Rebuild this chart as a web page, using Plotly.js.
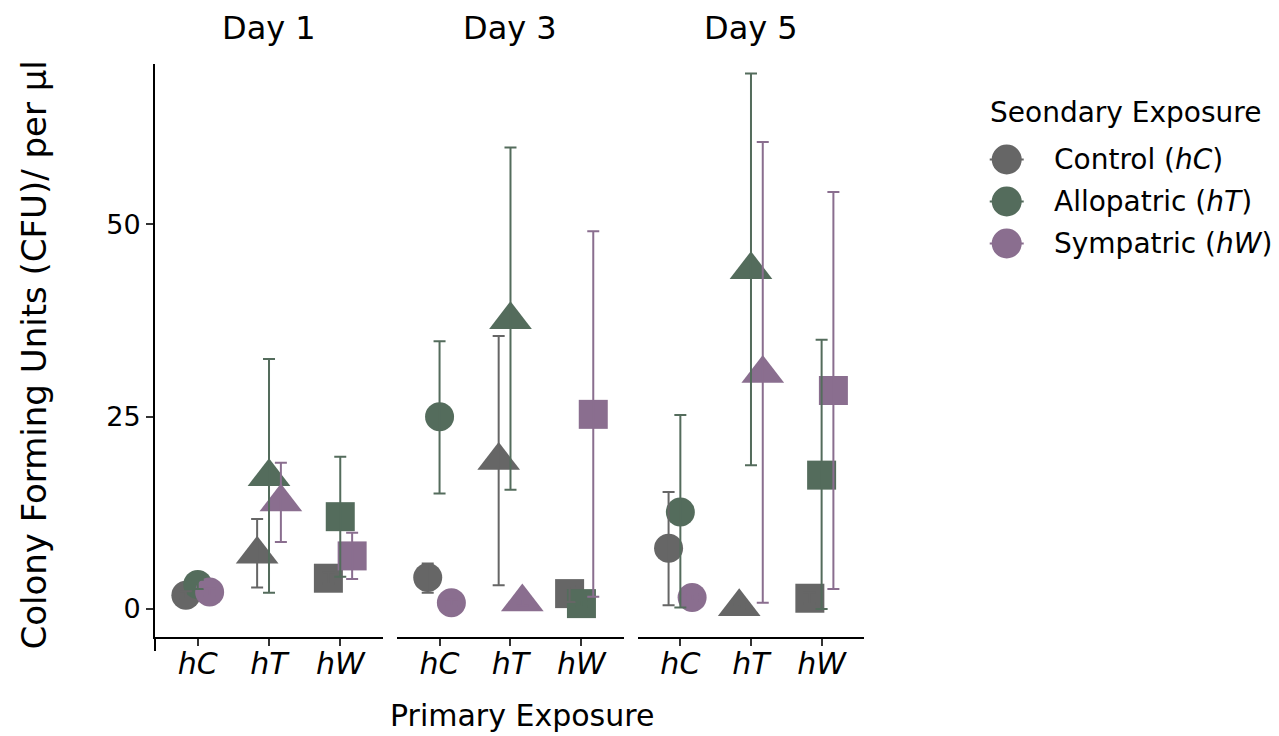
<!DOCTYPE html>
<html>
<head>
<meta charset="utf-8">
<script src="https://cdn.plot.ly/plotly-3.0.1.min.js"></script>
<style>html,body{margin:0;padding:0;background:#fff;}#chart{width:1279px;height:736px;}</style>
</head>
<body>
<div id="chart"></div>
<script>
// ---------- data ----------
const days = ['Day 1', 'Day 3', 'Day 5'];
const primaryCats = ['hC', 'hT', 'hW'];
const primaryLabels = ['<i>hC</i>', '<i>hT</i>', '<i>hW</i>'];
const secondaryNames = ['Control (<i>hC</i>)', 'Allopatric (<i>hT</i>)', 'Sympatric (<i>hW</i>)'];
const secondaryColors = ['#666666', '#546C5C', '#8A6E8F'];
const legendTitle = 'Seondary Exposure';

// rows: Day 1, Day 3, Day 5 ; columns: primary hC, hT, hW
const controlMean  = [[1.8, 7.1, 4.0], [4.1, 19.3, 2.0], [7.9, 0.3, 1.4]];
const controlLow   = [[1.3, 2.8, 3.3], [2.1, 3.1, 0.9], [0.5, 0.0, 0.7]];
const controlHigh  = [[2.3, 11.7, 4.7], [5.9, 35.5, 3.0], [15.2, 0.6, 2.1]];

const allopatricMean = [[3.2, 17.2, 12.0], [25.0, 37.6, 0.7], [12.6, 44.1, 17.4]];
const allopatricLow  = [[2.6, 2.1, 4.2], [15.0, 15.5, 0.3], [0.2, 18.7, 0.0]];
const allopatricHigh = [[3.8, 32.5, 19.8], [34.8, 60.0, 1.1], [25.2, 69.6, 35.0]];

const sympatricMean = [[2.2, 13.9, 6.9], [0.8, 0.9, 25.3], [1.5, 30.6, 28.4]];
const sympatricLow  = [[1.7, 8.7, 3.9], [0.4, 0.5, 1.6], [1.1, 0.8, 2.6]];
const sympatricHigh = [[2.7, 19.0, 9.9], [1.2, 1.3, 49.1], [1.9, 60.7, 54.2]];

// ---------- build ----------
const means = [controlMean, allopatricMean, sympatricMean];
const lows = [controlLow, allopatricLow, sympatricLow];
const highs = [controlHigh, allopatricHigh, sympatricHigh];

const FONT = 'DejaVu Sans, Verdana, sans-serif';
const symbols = ['circle', 'triangle-up', 'square'];
const sizes = [29, 37, 29];
const dodgeWidth = 0.5;
const nSec = secondaryNames.length;

const pointTraces = [];
const errTraces = [];
days.forEach((day, d) => {
  const xa = d === 0 ? 'x' : 'x' + (d + 1);
  secondaryNames.forEach((name, s) => {
    const off = (s - (nSec - 1) / 2) * dodgeWidth / nSec;
    const xs = primaryCats.map((c, i) => i + 1 + off);
    const ys = means[s][d];
    pointTraces.push({
      type: 'scatter', mode: 'markers', x: xs, y: ys, xaxis: xa, yaxis: 'y',
      name: name, showlegend: false, hoverinfo: 'skip',
      marker: { color: secondaryColors[s], symbol: symbols, size: sizes, opacity: 1, line: { width: 0 } }
    });
    errTraces.push({
      type: 'scatter', mode: 'markers', x: xs, y: ys, xaxis: xa, yaxis: 'y',
      name: name, showlegend: false, hoverinfo: 'skip',
      marker: { color: secondaryColors[s], size: 2, opacity: 0 },
      error_y: {
        type: 'data', symmetric: false,
        array: highs[s][d].map((h, i) => h - ys[i]),
        arrayminus: lows[s][d].map((l, i) => ys[i] - l),
        color: secondaryColors[s], thickness: 2, width: 6
      }
    });
  });
});

const domains = [[0, 0.3216], [0.3413, 0.6615], [0.6812, 1]];
const layout = {
  width: 1279, height: 736,
  margin: { l: 155, r: 415, t: 64, b: 99 },
  paper_bgcolor: '#ffffff', plot_bgcolor: '#ffffff',
  font: { family: FONT, color: '#000000' },
  showlegend: false,
  yaxis: {
    range: [-3.64, 70.84], tickvals: [0, 25, 50], ticktext: ['0', '25', '50'],
    showgrid: false, zeroline: false, showline: true, linecolor: '#000', linewidth: 2,
    ticks: 'outside', ticklen: 7, tickwidth: 2, tickcolor: '#333',
    tickfont: { size: 27, family: FONT, color: '#000' }, anchor: 'x', fixedrange: true
  },
  annotations: [],
  shapes: []
};
domains.forEach((dom, d) => {
  const key = d === 0 ? 'xaxis' : 'xaxis' + (d + 1);
  layout[key] = {
    domain: dom, range: [0.4, 3.6], anchor: 'y',
    tickvals: [1, 2, 3], ticktext: primaryLabels,
    showgrid: false, zeroline: false, showline: true, linecolor: '#000', linewidth: 2,
    ticks: 'outside', ticklen: 7, tickwidth: 2, tickcolor: '#333',
    ticklabelstandoff: -8,
    tickfont: { size: 30, family: FONT, color: '#000' }, fixedrange: true
  };
  layout.annotations.push({
    text: days[d], xref: 'paper', yref: 'paper', x: (dom[0] + dom[1]) / 2, y: 1.062,
    xanchor: 'center', yanchor: 'middle', showarrow: false,
    font: { size: 32, family: FONT, color: '#000' }
  });
});
// axis titles
layout.annotations.push({
  text: 'Primary Exposure', xref: 'paper', yref: 'paper', x: 0.5176, y: -0.137,
  xanchor: 'center', yanchor: 'middle', showarrow: false,
  font: { size: 30, family: FONT, color: '#000' }
});
layout.annotations.push({
  text: 'Colony Forming Units (CFU)/ per µl', xref: 'paper', yref: 'paper', x: -0.170, y: 0.492,
  xanchor: 'center', yanchor: 'middle', textangle: -90, showarrow: false,
  font: { size: 34, family: FONT, color: '#000' }
});
// y axis line extension below panel
layout.shapes.push({
  type: 'line', xref: 'paper', yref: 'paper', ysizemode: 'pixel', yanchor: 0,
  x0: 0, x1: 0, y0: 0, y1: -14, line: { color: '#000', width: 2 }
});
// legend
layout.annotations.push({
  text: legendTitle, xref: 'paper', yref: 'paper', x: 1.1753, y: 0.9154,
  xanchor: 'left', yanchor: 'middle', showarrow: false,
  font: { size: 28, family: FONT, color: '#000' }
});
const plotH = 736 - 64 - 99;
secondaryNames.forEach((name, s) => {
  const yPix = 159.5 + 42 * s;
  const yp = (736 - 99 - yPix) / plotH;
  const xc = 1.2013;
  layout.shapes.push({
    type: 'line', xref: 'paper', yref: 'paper', xsizemode: 'pixel', xanchor: xc,
    x0: -17, x1: 17, y0: yp, y1: yp, line: { color: secondaryColors[s], width: 2 }
  });
  layout.shapes.push({
    type: 'circle', xref: 'paper', yref: 'paper', xsizemode: 'pixel', ysizemode: 'pixel',
    xanchor: xc, yanchor: yp, x0: -15, x1: 15, y0: -15, y1: 15,
    fillcolor: secondaryColors[s], line: { width: 0 }
  });
  layout.annotations.push({
    text: name, xref: 'paper', yref: 'paper', x: 1.2647, y: yp,
    xanchor: 'left', yanchor: 'middle', showarrow: false,
    font: { size: 28, family: FONT, color: '#000' }
  });
});

Plotly.newPlot('chart', pointTraces.concat(errTraces), layout, { staticPlot: true, displayModeBar: false });
</script>
</body>
</html>
